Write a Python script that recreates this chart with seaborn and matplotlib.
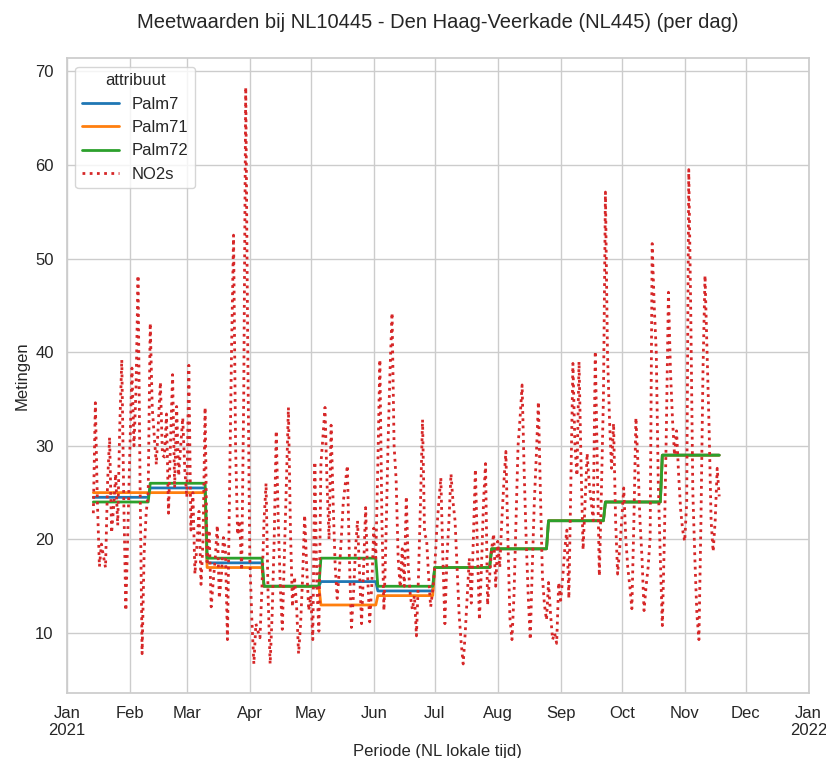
import pandas as pd
import numpy as np
import matplotlib
matplotlib.use('Agg')
import matplotlib.pyplot as plt
import matplotlib.dates as mdates
import seaborn as sns

# Meetwaarden NL10445 - Den Haag-Veerkade, daggemiddelden 2021

eerste_dag = '2021-01-14'

# NO2s per dag (14 jan t/m 18 nov 2021)
no2s = [
    22.8, 34.6, 24.0, 17.1, 19.5, 18.2, 17.0,
    26.0, 30.9, 20.7, 23.5, 27.0, 21.5, 32.0,
    39.2, 24.0, 12.4, 21.0, 29.5, 38.3, 30.0,
    36.0, 48.2, 26.0, 7.8, 18.5, 22.8, 25.0,
    43.1, 34.0, 31.0, 28.0, 32.5, 36.8, 29.0,
    28.8, 33.4, 22.8, 30.5, 37.6, 25.5, 34.2,
    26.8, 30.0, 33.0, 27.5, 24.5, 38.6, 21.0,
    25.0, 16.3, 19.5, 23.0, 15.2, 20.0, 34.1,
    17.6, 21.0, 12.8, 15.5, 18.0, 21.5, 13.7,
    16.0, 20.2, 18.9, 9.3, 25.0, 40.0, 52.5,
    30.0, 20.5, 22.0, 16.7, 35.0, 68.3, 40.0,
    18.0, 11.5, 6.7, 11.0, 10.2, 9.5, 15.0,
    22.0, 26.0, 14.0, 6.7, 12.0, 20.0, 31.6,
    22.0, 15.0, 10.4, 18.0, 26.0, 34.1, 21.0,
    12.8, 16.0, 13.0, 7.8, 11.0, 16.0, 22.6,
    17.0, 12.4, 14.0, 9.3, 28.3, 15.0, 10.2,
    28.1, 31.0, 34.1, 26.0, 20.0, 32.2, 24.0,
    17.2, 13.7, 16.5, 20.0, 24.0, 26.0, 27.9,
    18.0, 10.6, 14.0, 18.9, 22.0, 16.5, 11.0,
    17.0, 23.4, 16.0, 11.2, 15.0, 21.2, 18.0,
    28.0, 39.2, 22.0, 12.4, 20.0, 30.0, 38.0,
    44.2, 30.0, 26.4, 18.0, 14.9, 19.0, 15.0,
    24.6, 17.0, 14.0, 12.5, 14.0, 9.7, 16.0,
    24.0, 32.8, 20.6, 20.0, 16.0, 12.8, 14.5,
    17.0, 21.0, 24.0, 26.6, 18.0, 11.0, 18.0,
    22.0, 27.0, 24.0, 22.0, 17.0, 12.0, 9.0,
    6.7, 10.0, 14.0, 18.0, 13.2, 20.0, 27.5,
    19.0, 11.4, 17.0, 24.0, 28.1, 13.0, 16.0,
    19.0, 20.6, 15.0, 19.8, 17.0, 22.0, 26.0,
    29.4, 20.0, 11.6, 9.3, 14.0, 22.0, 30.0,
    33.0, 36.5, 27.3, 20.0, 14.0, 9.3, 17.0,
    24.0, 29.0, 34.7, 25.0, 16.0, 13.0, 11.4,
    15.4, 12.0, 9.3, 10.0, 8.9, 15.4, 13.5,
    16.0, 19.0, 21.0, 13.7, 26.0, 38.8, 30.0,
    26.8, 39.0, 28.0, 18.9, 24.0, 29.2, 26.0,
    24.0, 22.0, 40.1, 28.0, 16.1, 25.0, 35.0,
    57.1, 40.0, 32.8, 27.6, 32.4, 22.0, 16.3,
    19.0, 22.0, 25.5, 20.2, 17.0, 15.0, 12.6,
    22.0, 33.0, 28.1, 22.0, 18.0, 12.4, 15.0,
    17.0, 20.2, 51.6, 45.0, 40.1, 26.0, 18.0,
    10.8, 20.0, 32.0, 46.4, 38.0, 32.8, 29.0,
    31.6, 27.0, 23.2, 21.0, 19.8, 24.0, 59.5,
    44.0, 25.1, 18.0, 12.0, 9.3, 22.0, 38.0,
    48.2, 40.0, 32.0, 22.0, 18.7, 22.0, 27.6,
    24.6,
]

# Palm-waarden per periode van 4 weken
periode_start = ['2021-01-14', '2021-02-11', '2021-03-11', '2021-04-08',
                 '2021-05-06', '2021-06-03', '2021-07-01', '2021-07-29',
                 '2021-08-26', '2021-09-23', '2021-10-21']
palm7 = [24.5, 25.5, 17.5, 15.0, 15.5, 14.5, 17.0, 19.0, 22.0, 24.0, 29.0]
palm71 = [25.0, 25.0, 17.0, 15.0, 13.0, 14.0, 17.0, 19.0, 22.0, 24.0, 29.0]
palm72 = [24.0, 26.0, 18.0, 15.0, 18.0, 15.0, 17.0, 19.0, 22.0, 24.0, 29.0]

dagen = pd.date_range(eerste_dag, periods=len(no2s), freq='D')
perioden = pd.to_datetime(periode_start)
idx = np.searchsorted(perioden.values, dagen.values, side='right') - 1

df = pd.DataFrame({
    'Periode': dagen,
    'Palm7': np.array(palm7)[idx],
    'Palm71': np.array(palm71)[idx],
    'Palm72': np.array(palm72)[idx],
    'NO2s': no2s,
})
df_long = df.melt(id_vars='Periode', var_name='attribuut', value_name='Metingen')

sns.set_theme(style='whitegrid')
plt.rcParams['font.family'] = ['Liberation Sans', 'DejaVu Sans']

fig, ax = plt.subplots(figsize=(8.26, 7.58), dpi=100)

kleuren = {'Palm7': '#1f77b4', 'Palm71': '#ff7f0e', 'Palm72': '#2ca02c', 'NO2s': '#d62728'}
strepen = {'Palm7': '', 'Palm71': '', 'Palm72': '', 'NO2s': (1, 1.6)}

sns.lineplot(data=df_long, x='Periode', y='Metingen', hue='attribuut', style='attribuut',
             hue_order=['Palm7', 'Palm71', 'Palm72', 'NO2s'],
             style_order=['Palm7', 'Palm71', 'Palm72', 'NO2s'],
             palette=kleuren, dashes=strepen, linewidth=2, ax=ax)

ax.set_xlim(pd.Timestamp('2021-01-01'), pd.Timestamp('2022-01-01'))
ax.xaxis.set_major_locator(mdates.MonthLocator())

def maand_label(v, pos):
    d = mdates.num2date(v)
    return d.strftime('%b\n%Y') if d.month == 1 else d.strftime('%b')

ax.xaxis.set_major_formatter(plt.FuncFormatter(maand_label))
ax.tick_params(axis='both', labelsize=12)

ax.set_title('Meetwaarden bij NL10445 - Den Haag-Veerkade (NL445) (per dag)', fontsize=14.5, pad=22)
ax.set_xlabel('Periode (NL lokale tijd)', fontsize=12)
ax.set_ylabel('Metingen', fontsize=12)

leg = ax.legend(loc='upper left', title='attribuut', fontsize=12, title_fontsize=12,
                handlelength=2.2, labelspacing=0.5, handletextpad=0.8)

plt.subplots_adjust(left=0.081, right=0.979, top=0.923, bottom=0.086)
plt.savefig('out.png', dpi=100)
